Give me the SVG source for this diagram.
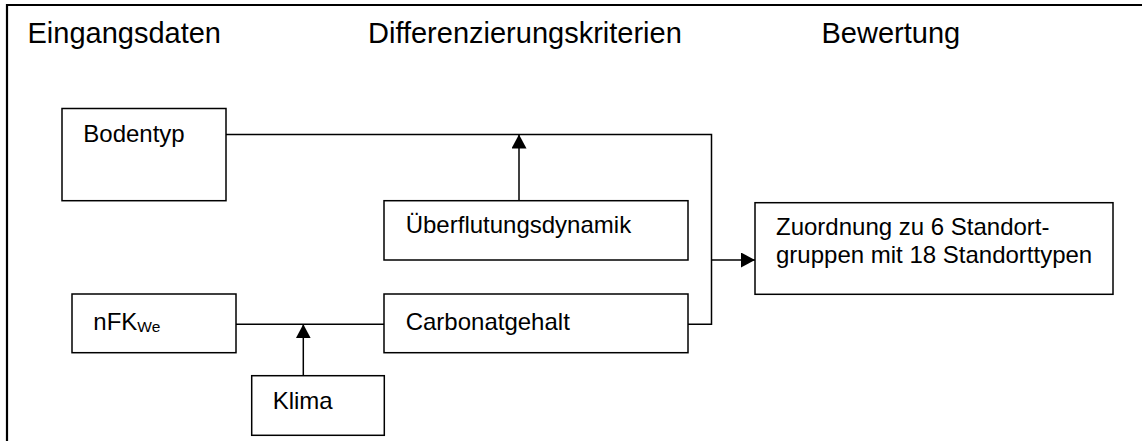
<svg xmlns="http://www.w3.org/2000/svg" width="1142" height="441" viewBox="0 0 1142 441">
<style>
.box{fill:#fff;stroke:#000;stroke-width:1.5}
.t{font-family:"Liberation Sans",Arial,sans-serif;font-size:24px;fill:#000}
.h{font-family:"Liberation Sans",Arial,sans-serif;font-size:29px;fill:#000}
.c{fill:none;stroke:#000;stroke-width:1.5}
</style>
<defs>
<marker id="ah" viewBox="0 0 14 15" refX="14" refY="7.5" markerWidth="14" markerHeight="15" markerUnits="userSpaceOnUse" orient="auto">
<path d="M0,0 L14,7.5 L0,15 Z" fill="#000"/>
</marker>
</defs>
<rect width="1142" height="441" fill="#fff"/>
<path d="M7,441 V5 H1142" fill="none" stroke="#000" stroke-width="2.2"/>
<g id="headers">
<text class="h" x="27.5" y="43">Eingangsdaten</text>
<text class="h" x="368" y="43">Differenzierungskriterien</text>
<text class="h" x="821.5" y="43">Bewertung</text>
</g>
<g id="connectors">
<path class="c" d="M226,134.5 H711.5 V324.3 H688"/>
<path class="c" d="M519,200.7 V134.5" marker-end="url(#ah)"/>
<path class="c" d="M711.5,260 H755" marker-end="url(#ah)"/>
<path class="c" d="M236,324.3 H384"/>
<path class="c" d="M303.3,375.7 V324.3" marker-end="url(#ah)"/>
</g>
<g id="bodentyp">
<rect class="box" x="62" y="108.5" width="164" height="92.2"/>
<text class="t" x="83.3" y="142.3">Bodentyp</text>
</g>
<g id="ueberflutung">
<rect class="box" x="384" y="200.7" width="304" height="59.3"/>
<text class="t" x="405.7" y="233.3">Überflutungsdynamik</text>
</g>
<g id="carbonat">
<rect class="box" x="384" y="294" width="304" height="58.7"/>
<text class="t" x="405.7" y="329.5">Carbonatgehalt</text>
</g>
<g id="nfk">
<rect class="box" x="72" y="294" width="164" height="58.7"/>
<text class="t" x="93.3" y="329.5">nFK<tspan font-size="15.5" dy="2">We</tspan></text>
</g>
<g id="klima">
<rect class="box" x="251.7" y="375.7" width="132.6" height="59.6"/>
<text class="t" x="272.7" y="409.3">Klima</text>
</g>
<g id="zuordnung">
<rect class="box" x="755" y="202.7" width="358" height="91.6"/>
<text class="t" x="776" y="235">Zuordnung zu 6 Standort-</text>
<text class="t" x="776" y="262.7">gruppen mit 18 Standorttypen</text>
</g>
</svg>
